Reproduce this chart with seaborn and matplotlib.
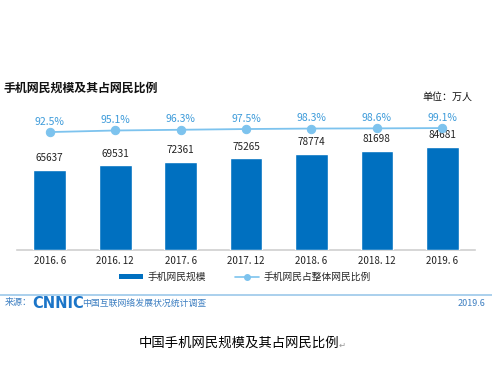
import numpy as np
import pandas as pd
import matplotlib
matplotlib.use("Agg")
import matplotlib.pyplot as plt
import seaborn as sns
from matplotlib.patches import Patch
from matplotlib.lines import Line2D

# data
periods = ["2016. 6", "2016. 12", "2017. 6", "2017. 12", "2018. 6", "2018. 12", "2019. 6"]
mobile_users = [65637, 69531, 72361, 75265, 78774, 81698, 84681]   # 万人
mobile_share = [92.5, 95.1, 96.3, 97.5, 98.3, 98.6, 99.1]          # %

BAR_BLUE = "#0070C0"
LINE_BLUE = "#7DC3EE"
PCT_BLUE = "#3D9BDA"
FONT = ["Noto Sans CJK SC", "DejaVu Sans"]

sns.set_theme(style="white")
plt.rcParams["font.family"] = FONT
plt.rcParams["axes.unicode_minus"] = False

df = pd.DataFrame({"period": periods, "users": mobile_users, "share": mobile_share})

W, H = 492, 391
fig = plt.figure(figsize=(W / 100, H / 100), dpi=100)

ax = fig.add_axes([17 / W, 1 - 250 / H, (475 - 17) / W, 140 / H])
ax.patch.set_alpha(0)
sns.barplot(data=df, x="period", y="users", color=BAR_BLUE, width=0.5,
            saturation=1, ax=ax, zorder=3)
ax.set_xlim(-0.5, 6.5)
ax.set_ylim(0, 115000)
for i, v in enumerate(mobile_users):
    ax.text(i, v + 5500, f"{v}", ha="center", va="bottom", fontsize=7.2, color="#222222")

ax.set_xlabel("")
ax.set_ylabel("")
ax.set_yticks([])
ax.tick_params(axis="x", length=0, pad=4, labelsize=7, labelcolor="#222222")
for s in ["top", "left", "right"]:
    ax.spines[s].set_visible(False)
ax.spines["bottom"].set_color("#d0d0d0")
ax.spines["bottom"].set_linewidth(1.2)

ax2 = ax.twinx()
sns.lineplot(x=np.arange(len(periods)), y=mobile_share, ax=ax2, color=LINE_BLUE,
             linewidth=1.3, marker="o", markersize=6, markeredgecolor=LINE_BLUE,
             markerfacecolor=LINE_BLUE, zorder=4)
ax2.set_ylim(-102, 128.9)
ax2.set_yticks([])
ax2.set_ylabel("")
for s in ["top", "left", "right", "bottom"]:
    ax2.spines[s].set_visible(False)
for i, p in enumerate(mobile_share):
    ax2.text(i, p + 9, f"{p}%", ha="center", va="bottom", fontsize=7.5, color=PCT_BLUE)

# titles
fig.text(3 / W, 1 - 88 / H, "手机网民规模及其占网民比例", fontsize=8.6, fontweight="bold",
         color="#111111", ha="left", va="center")
fig.text(472 / W, 1 - 97 / H, "单位：万人", fontsize=7.2, color="#111111",
         ha="right", va="center")

# legend
handles = [Patch(facecolor=BAR_BLUE, edgecolor="none"),
           Line2D([], [], color=LINE_BLUE, marker="o", markersize=4, linewidth=1.2)]
fig.legend(handles, ["手机网民规模", "手机网民占整体网民比例"], loc="center",
           bbox_to_anchor=(245 / W, 1 - 277 / H), ncol=2, frameon=False,
           fontsize=7, handlelength=2.4, handleheight=0.35, columnspacing=3,
           handletextpad=0.5)

# source line
fig.add_artist(Line2D([0, 1], [1 - 295 / H, 1 - 295 / H], color="#9CC8EA", linewidth=1.2))
fig.text(5 / W, 1 - 303 / H, "来源：", fontsize=6.5, color="#3D7FC1", ha="left", va="center")
fig.text(32 / W, 1 - 303 / H, "CNNIC", fontsize=10.5, fontweight="bold", color="#1B75C8",
         ha="left", va="center", family=["DejaVu Sans"])
fig.text(82 / W, 1 - 303 / H, "中国互联网络发展状况统计调查", fontsize=6.4, color="#3D7FC1",
         ha="left", va="center")
fig.text(485 / W, 1 - 303 / H, "2019.6", fontsize=6.5, color="#3D7FC1", ha="right", va="center")

# caption
fig.text(239 / W, 1 - 343 / H, "中国手机网民规模及其占网民比例", fontsize=9.6, color="#000000",
         ha="center", va="center")
fig.text(339 / W, 1 - 345 / H, "↵", fontsize=6, color="#999999", ha="left", va="center",
         family=["DejaVu Sans"])

fig.savefig("out.png", dpi=100)
